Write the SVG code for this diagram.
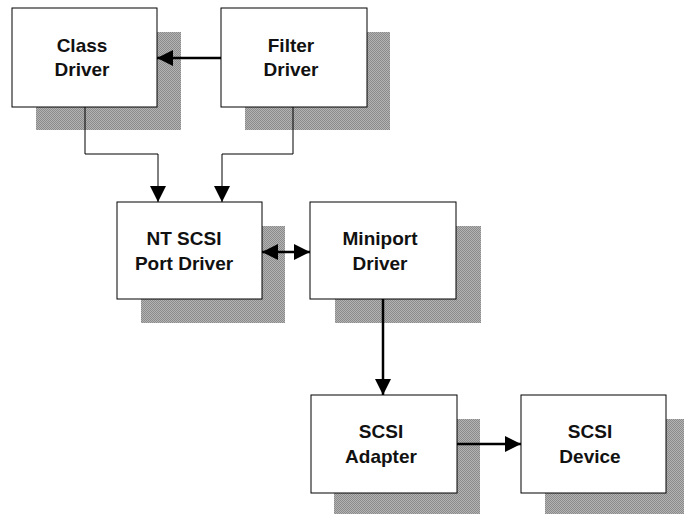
<svg xmlns="http://www.w3.org/2000/svg" width="684" height="514" viewBox="0 0 684 514">
<style>
.shadow{fill:#a2a2a2}
.box{fill:#fff;stroke:#000;stroke-width:1}
.lbl{font-family:"Liberation Sans",Arial,sans-serif;font-weight:bold;font-size:19px;fill:#111;text-anchor:middle}
.thin{fill:none;stroke:#000;stroke-width:1}
.thick{fill:none;stroke:#000;stroke-width:2.5}
</style>
<defs>
<pattern id="dots" width="2" height="2" patternUnits="userSpaceOnUse">
<rect width="2" height="2" fill="#b4b4b4"/>
<rect width="1" height="1" fill="#8a8a8a"/>
<rect x="1" y="1" width="1" height="1" fill="#8a8a8a"/>
</pattern>
<marker id="ah" markerUnits="userSpaceOnUse" markerWidth="16" markerHeight="16" refX="16" refY="8" orient="auto">
<path d="M0,0 L16,8 L0,16 z" fill="#000"/>
</marker>
<marker id="ahs" markerUnits="userSpaceOnUse" markerWidth="16" markerHeight="16" refX="0" refY="8" orient="auto">
<path d="M16,0 L0,8 L16,16 z" fill="#000"/>
</marker>
</defs>
<rect width="684" height="514" fill="#fff"/>
<g id="class-driver">
<rect class="shadow" fill="url(#dots)" x="36" y="32" width="145" height="98" style="fill:url(#dots)"/>
<rect class="box" x="12" y="8" width="145" height="99"/>
<text class="lbl" x="82" y="52">Class</text>
<text class="lbl" x="82" y="76">Driver</text>
</g>
<g id="filter-driver">
<rect class="shadow" x="245" y="32" width="145" height="98" style="fill:url(#dots)"/>
<rect class="box" x="221" y="8" width="146" height="99"/>
<text class="lbl" x="291" y="52">Filter</text>
<text class="lbl" x="291" y="76">Driver</text>
</g>
<g id="nt-scsi-port-driver">
<rect class="shadow" x="141" y="226" width="144" height="97" style="fill:url(#dots)"/>
<rect class="box" x="117" y="202" width="145" height="97"/>
<text class="lbl" x="184" y="245">NT SCSI</text>
<text class="lbl" x="184" y="270">Port Driver</text>
</g>
<g id="miniport-driver">
<rect class="shadow" x="335" y="226" width="146" height="97" style="fill:url(#dots)"/>
<rect class="box" x="310" y="202" width="146" height="97"/>
<text class="lbl" x="380" y="245">Miniport</text>
<text class="lbl" x="380" y="270">Driver</text>
</g>
<g id="scsi-adapter">
<rect class="shadow" x="334" y="419" width="146" height="95" style="fill:url(#dots)"/>
<rect class="box" x="311" y="395" width="146" height="98"/>
<text class="lbl" x="381" y="438">SCSI</text>
<text class="lbl" x="381" y="463">Adapter</text>
</g>
<g id="scsi-device">
<rect class="shadow" x="545" y="419" width="139" height="95" style="fill:url(#dots)"/>
<rect class="box" x="521" y="395" width="145" height="98"/>
<text class="lbl" x="590" y="438">SCSI</text>
<text class="lbl" x="590" y="463">Device</text>
</g>
<g id="connectors">
<path class="thick" d="M221,58 H157" marker-end="url(#ah)"/>
<path class="thin" d="M85,107 V154 H158 V202" marker-end="url(#ah)"/>
<path class="thin" d="M293,107 V154 H222 V202" marker-end="url(#ah)"/>
<path class="thick" d="M262,252 H310" marker-start="url(#ahs)" marker-end="url(#ah)"/>
<path class="thick" d="M383,299 V395" marker-end="url(#ah)"/>
<path class="thick" d="M457,444 H521" marker-end="url(#ah)"/>
</g>
</svg>
